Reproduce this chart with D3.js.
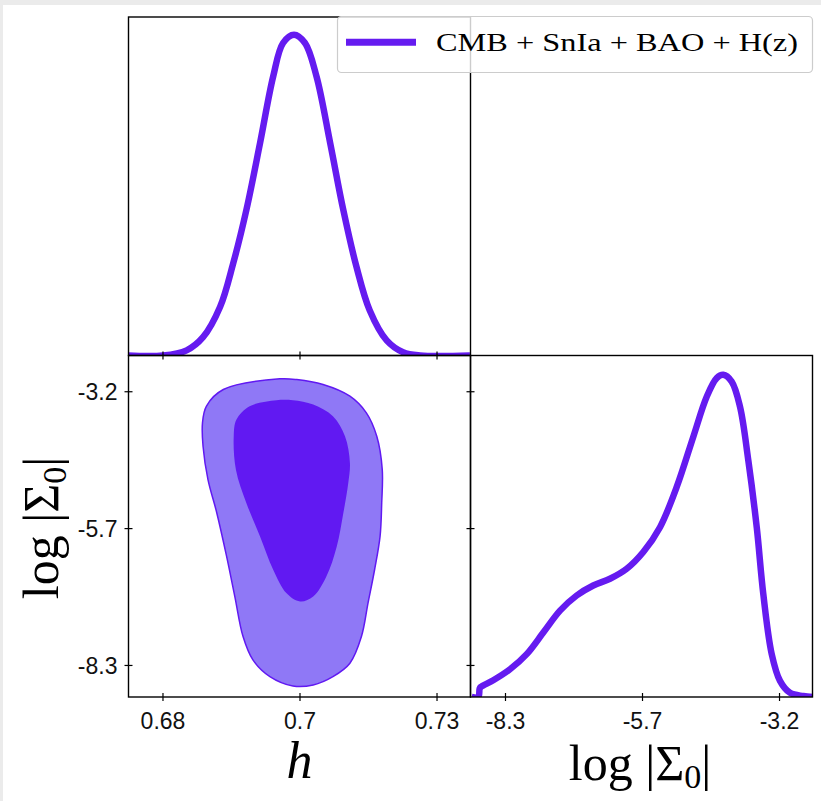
<!DOCTYPE html>
<html>
<head>
<meta charset="utf-8">
<script src="https://cdn.jsdelivr.net/npm/d3@7"></script>
<style>
  body { margin: 0; background: #ebebeb; }
  svg { display: block; }
  .tick text { font-family: "Liberation Sans", Arial, sans-serif; font-size: 23px; fill: #111; }
  .tick line { stroke: #000; stroke-width: 1.2; }
</style>
</head>
<body>
<div id="chart"></div>
<script>
// tick values / labels
const hTicks = [0.675, 0.7, 0.725];
const hTickLabels = ["0.68", "0.7", "0.73"];
const sTicks = [-8.3, -5.75, -3.2];
const sTickLabels = ["-8.3", "-5.7", "-3.2"];

// 1D marginal of h (normalised to peak)
const hGrid = [0.6687, 0.6751, 0.6794, 0.6824, 0.6855, 0.6879, 0.6903, 0.6928, 0.6952, 0.6970, 0.6990,
               0.7010, 0.7031, 0.7056, 0.7080, 0.7104, 0.7128, 0.7159, 0.7189, 0.7220, 0.7311];
const hDensity = [0, 0, 0.016, 0.057, 0.151, 0.287, 0.453, 0.662, 0.870, 0.974, 1.0,
                  0.974, 0.870, 0.662, 0.453, 0.276, 0.141, 0.047, 0.010, 0, 0];

// 1D marginal of log|Sigma0|
const sGrid = [-8.920, -8.797, -8.772, -8.752, -8.518, -8.207, -7.896, -7.587, -7.276, -6.966, -6.657,
               -6.346, -6.035, -5.726, -5.415, -5.104, -4.795, -4.546, -4.360, -4.237, -4.081,
               -3.926, -3.772, -3.615, -3.493, -3.336, -3.182, -2.996, -2.748, -2.573];
const sDensity = [0, 0, 0.026, 0.031, 0.052, 0.086, 0.133, 0.200, 0.268, 0.315, 0.346,
                  0.367, 0.398, 0.450, 0.527, 0.652, 0.808, 0.932, 0.990, 1.0, 0.979,
                  0.901, 0.735, 0.527, 0.320, 0.133, 0.050, 0.013, 0.003, 0];

// 2D contours (95% outer, 68% inner)
const c95h = [0.6964, 0.6861, 0.6830, 0.6823, 0.6824, 0.6833, 0.6849, 0.6867, 0.6882, 0.6897, 0.6915,
              0.6946, 0.6988, 0.7025, 0.7061, 0.7092, 0.7113, 0.7125, 0.7137, 0.7147, 0.7150,
              0.7151, 0.7141, 0.7122, 0.7092, 0.7043, 0.6995];
const c95s = [-2.969, -3.168, -3.480, -3.790, -4.226, -4.847, -5.463, -6.278, -7.025, -7.771, -8.206,
              -8.517, -8.691, -8.672, -8.517, -8.267, -7.771, -7.148, -6.526, -5.905, -5.282,
              -4.661, -4.040, -3.603, -3.293, -3.075, -2.982];
const c68h = [0.6958, 0.6909, 0.6885, 0.6880, 0.6884, 0.6903, 0.6928, 0.6952, 0.6976, 0.7001,
              0.7025, 0.7049, 0.7068, 0.7080, 0.7089, 0.7092, 0.7083, 0.7061, 0.7025, 0.6988];
const c68s = [-3.368, -3.480, -3.728, -4.040, -4.661, -5.282, -5.905, -6.526, -6.961, -7.118,
              -7.025, -6.652, -6.092, -5.469, -4.909, -4.536, -4.040, -3.666, -3.448, -3.368];

const legendLabel = "CMB + SnIa + BAO + H(z)";

const W = 821, H = 801;
const lineColor = "#651bf0";
const x0 = 128.5, x1 = 470.5, x2 = 812.5;
const y0 = 17, y1 = 355.5, y2 = 697;

const svg = d3.select("#chart").append("svg")
    .attr("width", W)
    .attr("height", H);

svg.append("rect")
    .attr("x", 3).attr("y", 5)
    .attr("width", W - 3).attr("height", H - 5)
    .attr("fill", "#fff");

const defs = svg.append("defs");
function clip(id, x, y, w, h) {
    defs.append("clipPath").attr("id", id)
        .append("rect").attr("x", x).attr("y", y).attr("width", w).attr("height", h);
}
clip("clipTop", x0, y0, x1 - x0, y1 - y0);
clip("clipBL", x0, y1, x1 - x0, y2 - y1);
clip("clipBR", x1, y1, x2 - x1, y2 - y1);

// scales
const xH = d3.scaleLinear().domain([0.6688, 0.7312]).range([x0, x1]);
const yS = d3.scaleLinear().domain([-8.897, -2.534]).range([y2, y1]);
const xS = d3.scaleLinear().domain([-8.942, -2.577]).range([x1, x2]);
const yPh = d3.scaleLinear().domain([0, 1.055]).range([y1, y0]);
const yPs = d3.scaleLinear().domain([0, 1.06]).range([y2, y1]);

// top: marginal of h
const hLine = d3.line()
    .x((d, i) => xH(hGrid[i]))
    .y(d => yPh(d))
    .curve(d3.curveCatmullRom.alpha(0.5));
svg.append("path")
    .attr("d", hLine(hDensity))
    .attr("clip-path", "url(#clipTop)")
    .attr("fill", "none")
    .attr("stroke", lineColor)
    .attr("stroke-width", 6.5)
    .attr("stroke-linejoin", "round");

// bottom-left: 2D contours
const contour = d3.line().curve(d3.curveCatmullRomClosed.alpha(0.5));
const outerPts = c95h.map((h, i) => [xH(h), yS(c95s[i])]);
const innerPts = c68h.map((h, i) => [xH(h), yS(c68s[i])]);
const bl = svg.append("g").attr("clip-path", "url(#clipBL)");
bl.append("path")
    .attr("d", contour(outerPts))
    .attr("fill", "#8f78f6")
    .attr("stroke", "#6119f2")
    .attr("stroke-width", 1.5);
bl.append("path")
    .attr("d", contour(innerPts))
    .attr("fill", "#6119f2")
    .attr("stroke", "none");

// bottom-right: marginal of log|Sigma0|
const sLine = d3.line()
    .x((d, i) => xS(sGrid[i]))
    .y(d => yPs(d))
    .curve(d3.curveCatmullRom.alpha(0.5));
svg.append("path")
    .attr("d", sLine(sDensity))
    .attr("clip-path", "url(#clipBR)")
    .attr("fill", "none")
    .attr("stroke", lineColor)
    .attr("stroke-width", 6.5)
    .attr("stroke-linejoin", "round");

// axes (ticks crossing the spine)
function addAxis(axis, tx, ty, withLabels, horizontal) {
    const g = svg.append("g").attr("transform", `translate(${tx},${ty})`).call(axis);
    g.select(".domain").remove();
    if (horizontal) {
        g.selectAll(".tick line").attr("y1", -4).attr("y2", 4);
        g.selectAll(".tick text").attr("y", 31.5).attr("dy", null);
    } else {
        g.selectAll(".tick line").attr("x1", -4).attr("x2", 4);
        g.selectAll(".tick text").attr("x", -11).attr("dy", "0.35em");
    }
    if (!withLabels) g.selectAll(".tick text").remove();
    g.attr("font-family", null).attr("font-size", null);
    return g;
}
addAxis(d3.axisBottom(xH).tickValues(hTicks).tickSize(4), 0, y1, false, true);
addAxis(d3.axisBottom(xH).tickValues(hTicks).tickFormat((d, i) => hTickLabels[i]).tickSize(4), 0, y2, true, true);
addAxis(d3.axisLeft(yS).tickValues(sTicks).tickFormat((d, i) => sTickLabels[i]).tickSize(4), x0, 0, true, false);
addAxis(d3.axisBottom(xS).tickValues(sTicks).tickFormat((d, i) => sTickLabels[i]).tickSize(4), 0, y2, true, true);
addAxis(d3.axisLeft(yS).tickValues(sTicks).tickSize(4), x1, 0, false, false);

// frames
function frame(x, y, w, h) {
    svg.append("rect")
        .attr("x", x).attr("y", y).attr("width", w).attr("height", h)
        .attr("fill", "none").attr("stroke", "#000").attr("stroke-width", 1.4);
}
frame(x0, y0, x1 - x0, y1 - y0);
frame(x0, y1, x1 - x0, y2 - y1);
frame(x1, y1, x2 - x1, y2 - y1);

// axis labels
const serif = "'Liberation Serif', 'DejaVu Serif', serif";
svg.append("text")
    .attr("x", xH(0.7)).attr("y", 778)
    .attr("text-anchor", "middle")
    .attr("font-family", serif).attr("font-style", "italic")
    .attr("font-size", 52)
    .text("h");

function sigmaLabel(g) {
    g.attr("font-family", serif).attr("font-size", 50).attr("text-anchor", "middle");
    g.append("tspan").text("log |Σ");
    g.append("tspan").attr("font-size", 34).attr("dy", 8).text("0");
    g.append("tspan").attr("dy", -8).text("|");
}
sigmaLabel(svg.append("text").attr("x", 640).attr("y", 780));
sigmaLabel(svg.append("text").attr("transform", "translate(58,528) rotate(-90)"));

// legend
const leg = svg.append("g");
leg.append("rect")
    .attr("x", 337.5).attr("y", 16.5)
    .attr("width", 475).attr("height", 56)
    .attr("rx", 4)
    .attr("fill", "#fff").attr("fill-opacity", 0.8)
    .attr("stroke", "#cccccc").attr("stroke-width", 1.2);
leg.append("line")
    .attr("x1", 346).attr("x2", 416)
    .attr("y1", 42.3).attr("y2", 42.3)
    .attr("stroke", lineColor).attr("stroke-width", 7);
leg.append("text")
    .attr("x", 436).attr("y", 51)
    .attr("font-family", serif).attr("font-size", 26)
    .attr("textLength", 362).attr("lengthAdjust", "spacingAndGlyphs")
    .text(legendLabel);
</script>
</body>
</html>
